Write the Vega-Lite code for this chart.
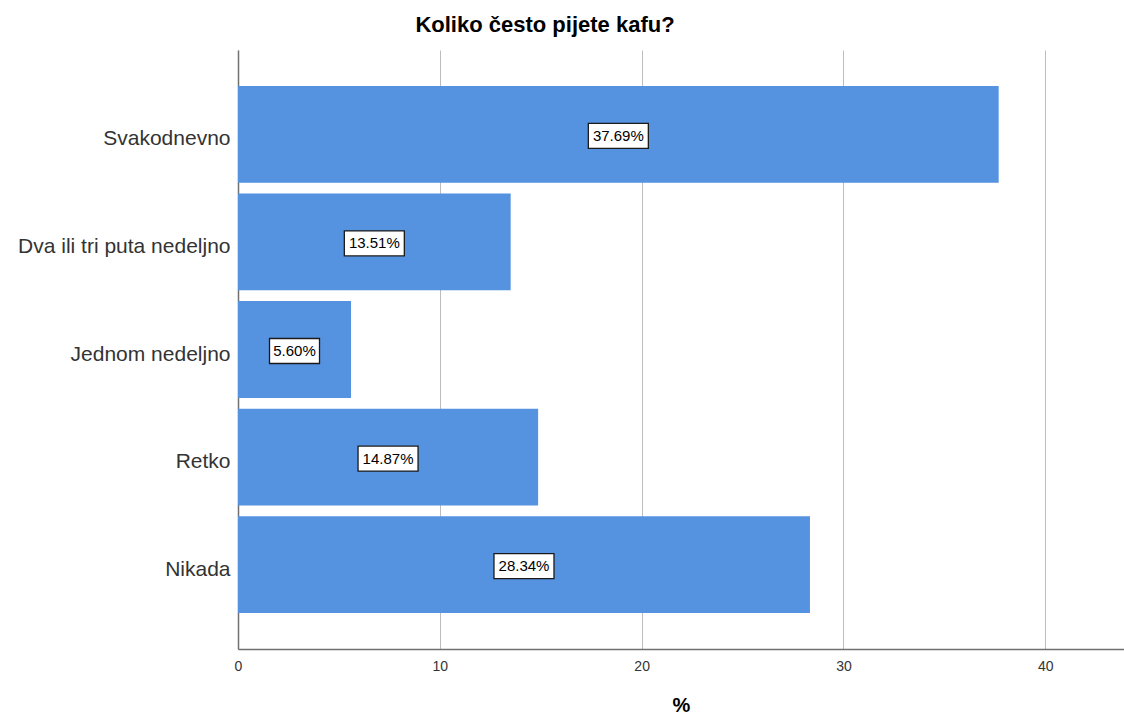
{
  "$schema": "https://vega.github.io/schema/vega-lite/v6.json",
  "width": 886,
  "height": 599,
  "autosize": "none",
  "padding": {"left": 238, "top": 50, "right": 0, "bottom": 72},
  "background": "white",
  "config": {"font": "Liberation Sans", "view": {"stroke": null}},
  "title": {
    "text": "Koliko često pijete kafu?",
    "fontSize": 22,
    "fontWeight": "bold",
    "color": "#000000",
    "anchor": "middle",
    "dx": -136,
    "offset": 13
  },
  "data": {
    "values": [
      {"cat": "Svakodnevno", "pct": 37.69},
      {"cat": "Dva ili tri puta nedeljno", "pct": 13.51},
      {"cat": "Jednom nedeljno", "pct": 5.60},
      {"cat": "Retko", "pct": 14.87},
      {"cat": "Nikada", "pct": 28.34}
    ]
  },
  "transform": [
    {"calculate": "datum.pct / 2", "as": "mid"},
    {"calculate": "format(datum.pct, '.2f') + '%'", "as": "label"}
  ],
  "encoding": {
    "y": {
      "field": "cat",
      "type": "nominal",
      "sort": null,
      "scale": {"paddingInner": 0.1, "paddingOuter": 0.335},
      "axis": {
        "title": null,
        "labelFontSize": 21,
        "labelColor": "#333333",
        "labelPadding": 8,
        "labelOffset": 5,
        "ticks": false,
        "domainColor": "#707070",
        "domainWidth": 1.5,
        "labelLimit": 400
      }
    }
  },
  "layer": [
    {
      "mark": {"type": "bar", "color": "#5592e0"},
      "encoding": {
        "x": {
          "field": "pct",
          "type": "quantitative",
          "scale": {"domain": [0, 43.9], "nice": false},
          "axis": {
            "values": [0, 10, 20, 30, 40],
            "title": "%",
            "titleFontSize": 20,
            "titleFontWeight": "bold",
            "titleColor": "#000000",
            "titlePadding": 22,
            "labelFontSize": 14,
            "labelColor": "#333333",
            "labelPadding": 10,
            "labelFlush": false,
            "ticks": false,
            "grid": true,
            "gridColor": "#bdbdbd",
            "gridWidth": 1,
            "domainColor": "#707070",
            "domainWidth": 1.5
          }
        }
      }
    },
    {
      "transform": [{"filter": "length(datum.label) == 6"}],
      "mark": {
        "type": "point",
        "shape": "M-1,-0.4167H1V0.4167H-1Z",
        "size": 3600,
        "filled": true,
        "fill": "white",
        "fillOpacity": 1,
        "stroke": "#1a1a1a",
        "strokeWidth": 1.3,
        "opacity": 1,
        "yOffset": 1.5
      },
      "encoding": {"x": {"field": "mid", "type": "quantitative"}}
    },
    {
      "transform": [{"filter": "length(datum.label) == 5"}],
      "mark": {
        "type": "point",
        "shape": "M-1,-0.5H1V0.5H-1Z",
        "size": 2500,
        "filled": true,
        "fill": "white",
        "fillOpacity": 1,
        "stroke": "#1a1a1a",
        "strokeWidth": 1.3,
        "opacity": 1,
        "yOffset": 1.5
      },
      "encoding": {"x": {"field": "mid", "type": "quantitative"}}
    },
    {
      "mark": {
        "type": "text",
        "fontSize": 15,
        "color": "#000000",
        "align": "center",
        "baseline": "middle",
        "yOffset": 1.5
      },
      "encoding": {
        "x": {"field": "mid", "type": "quantitative"},
        "text": {"field": "label"}
      }
    }
  ]
}
